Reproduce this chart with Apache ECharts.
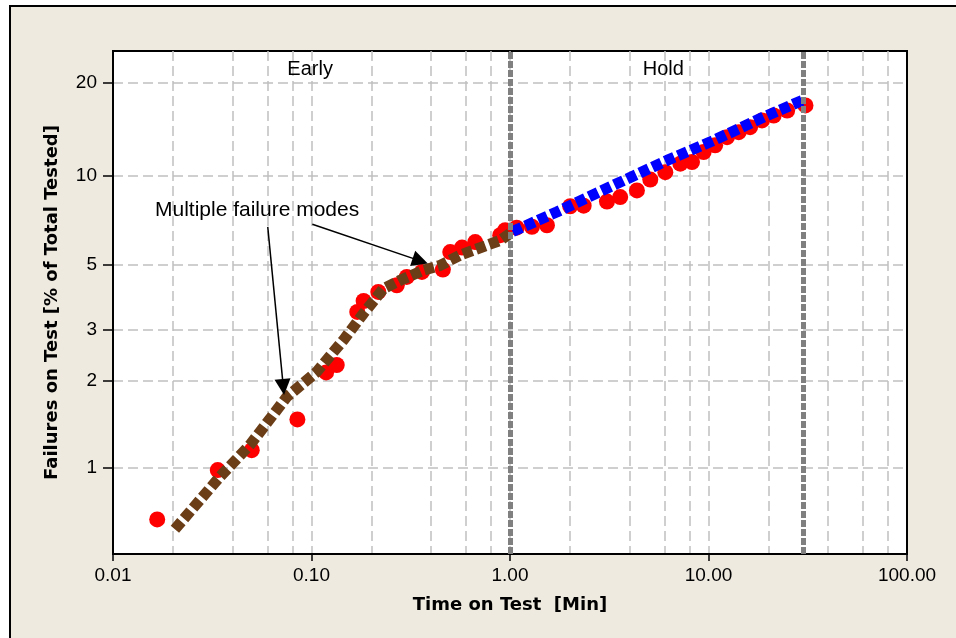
<!DOCTYPE html>
<html><head><meta charset="utf-8">
<script src="https://cdn.jsdelivr.net/npm/echarts@6/dist/echarts.min.js"></script>
<style>
html,body{margin:0;padding:0;background:#fff;overflow:hidden;}
#frame{position:absolute;left:9px;top:5px;width:960px;height:650px;background:#EEEAE0;border-left:2px solid #000;border-top:2px solid #000;}
#chart{position:absolute;left:0;top:0;width:956px;height:638px;}
</style></head><body>
<div id="frame"></div><div id="chart"></div>
<script>
// ---- data (time in minutes, failures in % of total tested) ----
const failureTime = [0.0167,0.0337,0.050,0.0849,0.1185,0.134,0.170,0.183,0.217,0.269,0.302,0.360,0.459,0.500,0.573,0.668,0.893,0.946,
                     1.08,1.29,1.535,2.01,2.35,3.08,3.59,4.36,5.09,6.06,7.21,8.26,9.45,10.8,12.4,14.2,16.2,18.6,21.3,24.9,30.8];
const failurePct  = [0.66,0.98,1.15,1.47,2.14,2.27,3.46,3.77,4.05,4.27,4.56,4.74,4.83,5.54,5.74,5.99,6.32,6.57,
                     6.70,6.75,6.83,7.91,7.95,8.20,8.49,8.94,9.71,10.28,10.96,11.1,11.97,12.59,13.39,13.9,14.43,15.17,15.73,16.32,16.94];
const earlyFitTime = [0.0205,0.0346,0.049,0.0751,0.1063,0.145,0.183,0.230,0.280,0.366,0.445,0.561,0.893,1.0];
const earlyFitPct  = [0.61,0.93,1.2,1.76,2.15,2.77,3.42,4.15,4.44,4.80,4.99,5.41,6.07,6.40];
const holdFitTime = [1.03,1.72,3.32,6.18,10.6,18.97,29.6];
const holdFitPct  = [6.50,7.57,9.30,11.24,13.06,15.55,17.57];
const phaseBoundaries = [1, 30];
const phaseLabels = ['Early', 'Hold'];
const phaseLabelTime = [0.0984, 5.92];
const phaseLabelPct = 21.95;
const noteText = 'Multiple failure modes';
const noteAt = [0.0532, 7.67];
const arrowFrom = [[0.0602, 6.74], [0.101, 6.88]];
const arrowTo   = [[0.0721, 1.906], [0.353, 5.17]];
const yTickPct = [1, 2, 3, 5, 10, 20];
const yRangePct = [0.5, 25];
const xRange = [0.01, 100];
const xGridValues = [0.02,0.04,0.06,0.08,0.1,0.2,0.4,0.6,0.8,1,2,4,6,8,10,20,40,60,80];

// Weibull probability transform
const wb = p => Math.log(-Math.log(1 - p / 100));
const unwb = v => 100 * (1 - Math.exp(-Math.exp(v)));

const labelFont = 'Liberation Sans';
const titleFont = 'DejaVu Sans';
const gridLine = {show: true, lineStyle: {color: '#C0C0C0', width: 1.5, type: [10, 5]}};

const chart = echarts.init(document.getElementById('chart'));
chart.setOption({
  backgroundColor: 'transparent',
  animation: false,
  grid: {left: 113, top: 51, right: 49, bottom: 84, show: true, backgroundColor: '#fff', borderColor: '#000', borderWidth: 2},
  xAxis: [{
    type: 'log', logBase: 10, min: xRange[0], max: xRange[1], position: 'bottom',
    axisLine: {show: true, lineStyle: {color: '#000', width: 2}},
    axisTick: {show: true, length: 7, lineStyle: {color: '#000', width: 1.5}},
    axisLabel: {color: '#000', fontFamily: labelFont, fontSize: 19, margin: 12, formatter: v => Number(v).toFixed(2)},
    splitLine: {show: false},
    name: 'Time on Test  [Min]', nameLocation: 'middle', nameGap: 42,
    nameTextStyle: {color: '#000', fontFamily: titleFont, fontWeight: 'bold', fontSize: 18}
  }, {
    type: 'log', logBase: 10, min: xRange[0], max: xRange[1], position: 'top',
    axisLine: {show: false},
    axisTick: {show: false, customValues: xGridValues},
    axisLabel: {show: false},
    splitLine: gridLine
  }],
  yAxis: {
    type: 'value', min: wb(yRangePct[0]), max: wb(yRangePct[1]),
    axisLine: {show: true, lineStyle: {color: '#000', width: 2}},
    axisTick: {show: true, length: 10, customValues: yTickPct.map(wb), lineStyle: {color: '#000', width: 1.5}},
    axisLabel: {color: '#000', fontFamily: labelFont, fontSize: 19, margin: 16, customValues: yTickPct.map(wb),
                formatter: v => String(Math.round(unwb(v)))},
    splitLine: gridLine,
    name: 'Failures on Test [% of Total Tested]', nameLocation: 'middle', nameGap: 52, nameRotate: 90,
    nameTextStyle: {color: '#000', fontFamily: titleFont, fontWeight: 'bold', fontSize: 18}
  },
  series: [{
    type: 'scatter', name: 'boundaries', data: [], z: 1, silent: true,
    markLine: {silent: true, symbol: ['none', 'none'], label: {show: false},
      lineStyle: {color: '#808080', width: 5, type: [7, 2], opacity: 1},
      data: phaseBoundaries.map(v => ({xAxis: v}))}
  }, {
    type: 'scatter', name: 'Failures', z: 3, symbol: 'circle', symbolSize: 16,
    itemStyle: {color: '#FF0000', opacity: 1, borderWidth: 0},
    data: failureTime.map((t, i) => [t, wb(failurePct[i])])
  }, {
    type: 'line', name: 'Early fit', z: 4, showSymbol: false, symbol: 'none',
    lineStyle: {color: '#6B3E18', width: 11, type: [10, 4], cap: 'butt'},
    data: earlyFitTime.map((t, i) => [t, wb(earlyFitPct[i])])
  }, {
    type: 'line', name: 'Hold fit', z: 4, showSymbol: false, symbol: 'none',
    lineStyle: {color: '#0000FF', width: 11, type: [10, 4], cap: 'butt'},
    data: holdFitTime.map((t, i) => [t, wb(holdFitPct[i])])
  }, {
    type: 'scatter', name: 'notes', data: [], z: 6, silent: true,
    markLine: {silent: true, symbol: ['none', 'triangle'], symbolSize: 16, label: {show: false},
      lineStyle: {color: '#000', width: 1.5, type: 'solid', opacity: 1},
      itemStyle: {color: '#000'},
      data: arrowFrom.map((f, i) => [{coord: [f[0], wb(f[1])]}, {coord: [arrowTo[i][0], wb(arrowTo[i][1])]}])},
    markPoint: {silent: true, symbol: 'circle', symbolSize: 1, itemStyle: {color: 'transparent'},
      label: {show: true, position: 'inside', color: '#000', fontFamily: labelFont, fontSize: 20},
      data: phaseLabels.map((s, i) => ({coord: [phaseLabelTime[i], wb(phaseLabelPct)], label: {formatter: s}}))
        .concat([{coord: [noteAt[0], wb(noteAt[1])], label: {formatter: noteText, fontSize: 21}}])}
  }]
});
</script>
</body></html>
